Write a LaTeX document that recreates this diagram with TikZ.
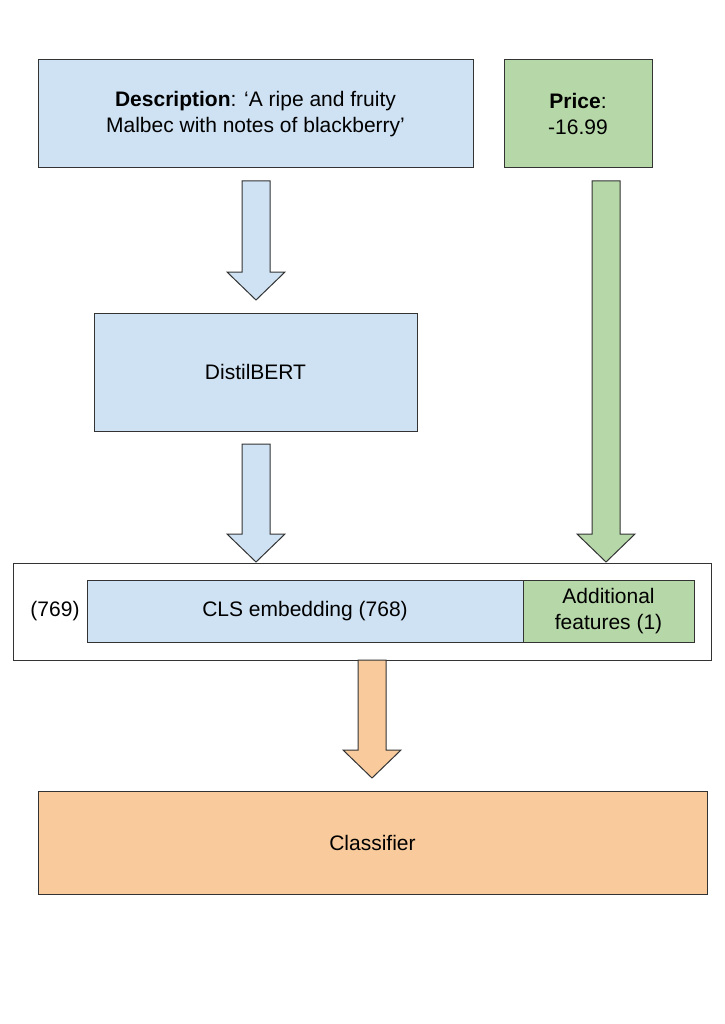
\documentclass[tikz,border=0pt]{standalone}
\usepackage{fontspec}
\setmainfont{Liberation Sans}
\definecolor{lblue}{HTML}{CFE2F3}
\definecolor{lgreen}{HTML}{B6D7A8}
\definecolor{lorange}{HTML}{F9CB9C}
\definecolor{edge}{HTML}{333333}
\begin{document}
\begin{tikzpicture}[x=1pt,y=-1pt,
  box/.style={draw=edge,line width=1pt},
  txt/.style={font=\fontsize{21}{26}\selectfont,align=center,text=black},
  barrow/.style={draw=edge,line width=1pt}]
\useasboundingbox[fill=white] (0,0) rectangle (724,1024);
\newcommand\blockarrow[4]{% x center, top, shaft end, tip, fill
  \draw[barrow,fill=#4] (#1-14,#2) -- (#1+14,#2) -- (#1+14,#3) -- (#1+29,#3) -- (#1,#3+28) -- (#1-29,#3) -- (#1-14,#3) -- cycle;}
\node[box,fill=lblue,minimum width=435,minimum height=108,txt] (desc) at (255.5,114) {\textbf{Description}: `A ripe and fruity\\Malbec with notes of blackberry'};
\node[box,fill=lgreen,minimum width=148,minimum height=108,txt] (price) at (578,114) {\textbf{Price}:\\-16.99};
\node[box,fill=lblue,minimum width=323,minimum height=118,txt] (bert) at (255.5,372) {DistilBERT};
\node[box,fill=white,minimum width=698,minimum height=97] (outer) at (362,611.5) {};
\node[box,fill=lblue,minimum width=436,minimum height=62,txt] (cls) at (305,611) {CLS embedding (768)};
\node[box,fill=lgreen,minimum width=171,minimum height=62,txt] (add) at (608.5,611) {Additional\\features (1)};
\node[txt] (n769) at (55,611) {(769)};
\node[box,fill=lorange,minimum width=669,minimum height=103,txt] (clf) at (372.5,842.5) {Classifier};
\blockarrow{256}{181}{272}{lblue}
\blockarrow{256}{444}{534}{lblue}
\blockarrow{606}{181}{534}{lgreen}
\blockarrow{372}{660}{750}{lorange}
\end{tikzpicture}
\end{document}
